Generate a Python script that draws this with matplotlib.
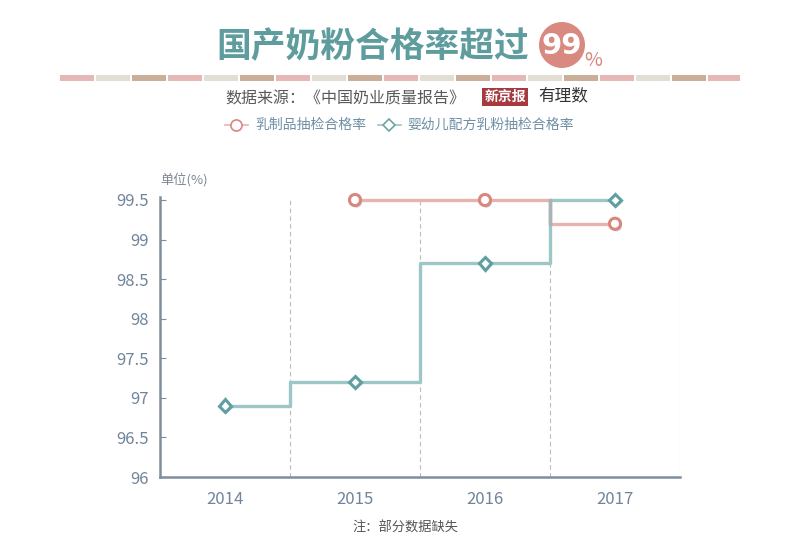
import matplotlib
matplotlib.use('Agg')
import matplotlib.pyplot as plt
import matplotlib.patheffects as pe
from matplotlib.patches import Rectangle, Ellipse
from matplotlib.lines import Line2D

plt.rcParams['font.family'] = ['Noto Sans CJK SC', 'DejaVu Sans']

years = ['2014', '2015', '2016', '2017']
dairy_x = [1, 2, 3]
dairy_rate = [99.5, 99.5, 99.2]
infant_x = [0, 1, 2, 3]
infant_rate = [96.9, 97.2, 98.7, 99.5]
y_ticks = [96, 96.5, 97, 97.5, 98, 98.5, 99, 99.5]
y_labels = ['96', '96.5', '97', '97.5', '98', '98.5', '99', '99.5']

W, H = 800, 550
fig = plt.figure(figsize=(8, 5.5), dpi=100)


def px(x, y):
    return x / W, 1 - y / H


teal = '#5e9c9e'
pink = '#d9867f'
teal_line = '#9dc6c6'
pink_line = '#e8b2ad'
axis_col = '#7f8e9c'
tick_col = '#70849a'

# title
fig.text(*px(373, 47), '国产奶粉合格率超过', fontsize=25, fontweight='bold',
         color=teal, ha='center', va='center')
fig.patches.append(Ellipse(px(562, 45), 46 / W, 46 / H, transform=fig.transFigure,
                           facecolor='#d98a80', edgecolor='none'))
fig.text(*px(562, 46), '99', fontsize=21, fontweight='bold', color='white',
         ha='center', va='center', family='DejaVu Sans')
fig.text(*px(593, 60), '%', fontsize=14, color=pink, ha='center', va='center')

# decorative strip
strip_cols = ['#e6b8b5', '#e2ded3', '#c9ae99']
x0 = 60
i = 0
while x0 < 740:
    w = min(34, 740 - x0)
    fig.patches.append(Rectangle(px(x0, 81), w / W, 6 / H, transform=fig.transFigure,
                                 facecolor=strip_cols[i % 3], edgecolor='none'))
    x0 += 36
    i += 1

fig.text(*px(225, 99), '数据来源：《中国奶业质量报告》', fontsize=11.5,
         color='#595959', ha='left', va='center')
fig.text(*px(505, 97), '新京报', fontsize=10, fontweight='bold', color='white',
         ha='center', va='center',
         bbox=dict(boxstyle='square,pad=0.15', facecolor='#a63a3f', edgecolor='none'))
fig.text(*px(563, 96), '有理数', fontsize=12, fontstyle='italic', color='#333333',
         ha='center', va='center')

# legend
leg_col = '#6f90a6'
x_a, y_a = px(225, 125)
x_b, _ = px(248, 125)
x_m, _ = px(236, 125)
fig.lines.append(Line2D([x_a, x_b], [y_a, y_a], transform=fig.transFigure,
                        color=pink_line, lw=1.2))
fig.lines.append(Line2D([x_m], [y_a], transform=fig.transFigure, marker='o', ms=8,
                        mfc='white', mec=pink, mew=1.2))
fig.text(*px(255, 125), '乳制品抽检合格率', fontsize=10, color=leg_col, ha='left', va='center')
x_a, _ = px(378, 125)
x_b, _ = px(401, 125)
x_m, _ = px(389, 125)
fig.lines.append(Line2D([x_a, x_b], [y_a, y_a], transform=fig.transFigure,
                        color=teal_line, lw=1.2))
fig.lines.append(Line2D([x_m], [y_a], transform=fig.transFigure, marker='D', ms=6.5,
                        mfc='white', mec='#6aa3a6', mew=1.2))
fig.text(*px(407, 125), '婴幼儿配方乳粉抽检合格率', fontsize=10, color=leg_col,
         ha='left', va='center')

# chart
ax = fig.add_axes([160 / W, 73 / H, 520 / W, 277 / H])
shadow = [pe.SimplePatchShadow(offset=(1, -1.5), shadow_rgbFace='#999999', alpha=0.5),
          pe.Normal()]

ax.step(dairy_x, dairy_rate, where='mid', color=pink_line, lw=2.4, zorder=3, clip_on=False)
ax.step(infant_x, infant_rate, where='mid', color=teal_line, lw=2.4, zorder=3, clip_on=False)
ax.plot([2.5, 2.5], [99.2, 99.5], color='#a8b4b8', lw=2.4, zorder=4, clip_on=False)
ax.plot(dairy_x, dairy_rate, 'o', ms=8, mfc='white', mec=pink, mew=2.2,
        zorder=5, path_effects=shadow, clip_on=False)
ax.plot(infant_x, infant_rate, 'D', ms=6.5, mfc='white', mec='#5e9fa2', mew=2.2,
        zorder=5, path_effects=shadow, clip_on=False)

for b in [0.5, 1.5, 2.5, 3.5]:
    ax.axvline(b, color='#bbbbbb', lw=0.8, ls=(0, (4, 3)), zorder=1)

ax.set_xlim(-0.5, 3.5)
ax.set_ylim(96, 99.5)
ax.set_xticks(range(len(years)))
ax.set_xticklabels(years)
ax.set_yticks(y_ticks)
ax.set_yticklabels(y_labels)
ax.tick_params(axis='y', direction='in', length=4, color=axis_col, labelcolor=tick_col,
               labelsize=12, pad=8)
ax.tick_params(axis='x', length=0, labelcolor=tick_col, labelsize=12, pad=10)
for s in ['top', 'right']:
    ax.spines[s].set_visible(False)
for s in ['left', 'bottom']:
    ax.spines[s].set_color(axis_col)
    ax.spines[s].set_linewidth(1.8)
ax.spines['left'].set_bounds(96, 99.54)
ax.patch.set_alpha(0)

fig.text(*px(160, 180), '单位(%)', fontsize=9.5, color='#7c8896', ha='left', va='center')
fig.text(*px(405, 528), '注：部分数据缺失', fontsize=9.5, color='#555555',
         ha='center', va='center')

fig.savefig('out.png', dpi=100, facecolor='white')
